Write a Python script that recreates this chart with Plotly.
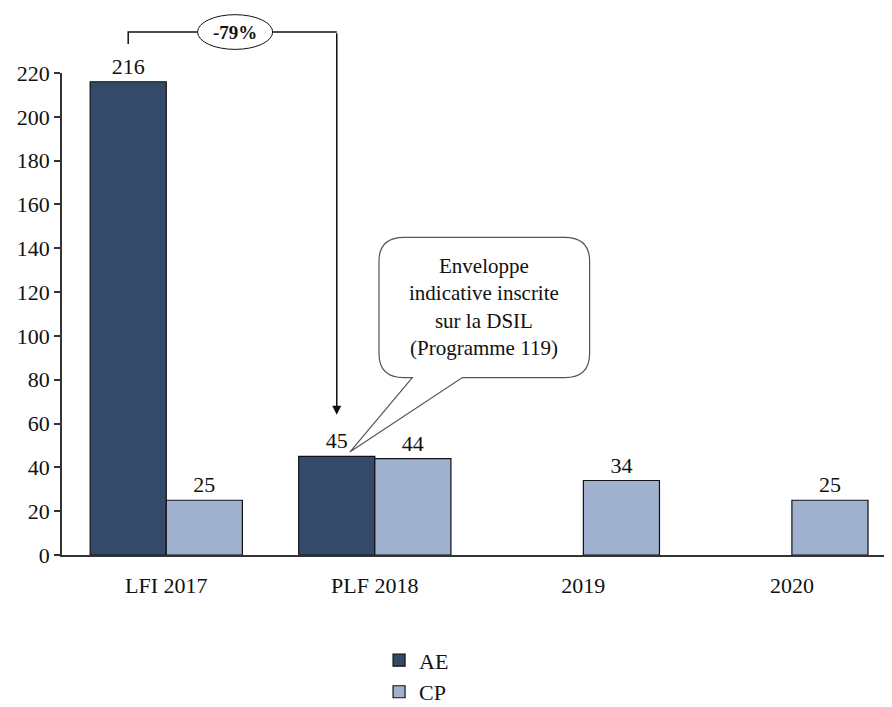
import plotly.graph_objects as go

# Données (millions d'euros)
categories = ['LFI 2017', 'PLF 2018', '2019', '2020']
ae_values = [216, 45, None, None]
cp_values = [25, 44, 34, 25]

AE_COLOR = '#354a6b'
CP_COLOR = '#a0b1d0'
FONT = 'Liberation Serif'
INK = '#111111'

x_pos = list(range(len(categories)))

fig = go.Figure()
fig.add_bar(
    x=x_pos, y=ae_values, name='AE',
    marker=dict(color=AE_COLOR, line=dict(color=INK, width=1.2)),
    text=[str(v) if v is not None else '' for v in ae_values],
    textposition='outside', cliponaxis=False,
    textfont=dict(family=FONT, size=22, color=INK),
)
fig.add_bar(
    x=x_pos, y=cp_values, name='CP',
    marker=dict(color=CP_COLOR, line=dict(color=INK, width=1.2)),
    text=[str(v) for v in cp_values],
    textposition='outside', cliponaxis=False,
    textfont=dict(family=FONT, size=22, color=INK),
)

# positions of the AE bars (left bar of each group)
bargap = 0.27
ae_off = -(1 - bargap) / 4
x_start = 0 + ae_off
x_end = 1 + ae_off
drop = (ae_values[1] - ae_values[0]) / ae_values[0]

# bracket with the -79% label (above the plot area, so y in paper units)
y_br = 1.085
ell_l, ell_r = 0.15, 0.51
fig.add_shape(type='path', xref='x', yref='paper',
              path=f'M {x_start},1.06 L {x_start},{y_br} L {ell_l},{y_br}',
              line=dict(color=INK, width=1.5))
fig.add_shape(type='path', xref='x', yref='paper',
              path=f'M {ell_r},{y_br} L {x_end},{y_br}',
              line=dict(color=INK, width=1.5))
fig.add_shape(type='circle', xref='x', yref='paper',
              x0=ell_l, x1=ell_r, y0=y_br - 0.036, y1=y_br + 0.036,
              line=dict(color=INK, width=1), fillcolor='white')
fig.add_annotation(x=(ell_l + ell_r) / 2, y=y_br, xref='x', yref='paper',
                   xanchor='center', yanchor='middle',
                   text=f'<b>{drop:.0%}</b>', showarrow=False,
                   font=dict(family=FONT, size=19, color=INK))
fig.add_annotation(x=x_end, y=ae_values[1] + 19, xref='x', yref='y',
                   ax=0, ay=-383, text='', showarrow=True, arrowhead=2,
                   arrowsize=1.2, arrowwidth=1.5, arrowcolor=INK)

# speech bubble
bx0, bx1, by0, by1 = 1.02, 2.03, 81, 145
rx, ry = 0.12, 11
tip_x, tip_y = 0.88, ae_values[1] + 2
t0, t1 = 1.18, 1.42
bubble = (
    f'M {bx0 + rx},{by1} L {bx1 - rx},{by1} Q {bx1},{by1} {bx1},{by1 - ry} '
    f'L {bx1},{by0 + ry} Q {bx1},{by0} {bx1 - rx},{by0} '
    f'L {t1},{by0} L {tip_x},{tip_y} L {t0},{by0} '
    f'L {bx0 + rx},{by0} Q {bx0},{by0} {bx0},{by0 + ry} '
    f'L {bx0},{by1 - ry} Q {bx0},{by1} {bx0 + rx},{by1} Z'
)
fig.add_shape(type='path', xref='x', yref='y', path=bubble,
              line=dict(color='#555555', width=1.2), fillcolor='white')
fig.add_annotation(x=(bx0 + bx1) / 2, y=(by0 + by1) / 2, xref='x', yref='y',
                   text='Enveloppe<br>indicative inscrite<br>sur la DSIL<br>(Programme 119)',
                   showarrow=False, align='center',
                   font=dict(family=FONT, size=21, color=INK))

fig.update_layout(
    width=892, height=707,
    barmode='group', bargap=bargap, bargroupgap=0,
    plot_bgcolor='white', paper_bgcolor='white',
    margin=dict(l=54, r=8, t=65, b=160, autoexpand=False),
    font=dict(family=FONT, size=22, color=INK),
    showlegend=True,
    legend=dict(orientation='v', x=0.382, xanchor='left', y=-0.175, yanchor='top',
                font=dict(family=FONT, size=22, color=INK),
                tracegroupgap=6, itemwidth=30),
)
fig.update_xaxes(
    tickvals=x_pos, ticktext=categories, range=[-0.5, 3.48],
    showline=True, linecolor='#333333', linewidth=1.5,
    ticks='', showgrid=False, zeroline=False, ticklabelstandoff=10,
    tickfont=dict(family=FONT, size=22, color=INK),
)
fig.update_yaxes(
    range=[0, 220], tickvals=list(range(0, 221, 20)),
    showline=True, linecolor='#333333', linewidth=1.5,
    ticks='outside', ticklen=6, tickcolor='#333333', tickwidth=1.5,
    showgrid=False, zeroline=False,
    tickfont=dict(family=FONT, size=22, color=INK),
)

fig.write_html('out.html')
